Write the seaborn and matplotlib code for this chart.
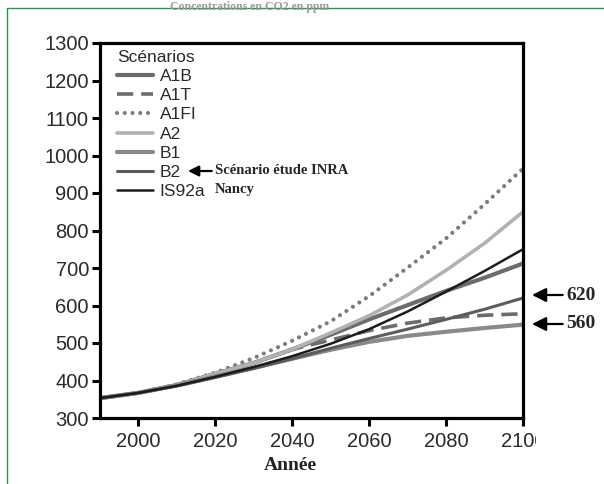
import matplotlib
matplotlib.use("Agg")
import matplotlib.pyplot as plt
from matplotlib.lines import Line2D
from matplotlib.transforms import Bbox
import seaborn as sns
import pandas as pd

years = [1990, 2000, 2010, 2020, 2030, 2040, 2050, 2060, 2070, 2080, 2090, 2100]
a1b   = [353, 367, 388, 418, 447, 483, 522, 563, 601, 639, 674, 712]
a1t   = [353, 367, 388, 418, 447, 483, 508, 533, 553, 567, 574, 578]
a1fi  = [353, 367, 390, 421, 460, 506, 558, 625, 701, 779, 870, 965]
a2    = [353, 367, 388, 418, 447, 483, 527, 573, 628, 694, 766, 850]
b1    = [353, 367, 387, 411, 434, 458, 482, 503, 519, 530, 540, 549]
b2    = [353, 367, 385, 408, 432, 458, 486, 512, 537, 563, 590, 620]
is92a = [353, 367, 386, 410, 436, 465, 498, 537, 584, 637, 692, 750]

scenarios = ["A1B", "A1T", "A1FI", "A2", "B1", "B2", "IS92a"]
series = [a1b, a1t, a1fi, a2, b1, b2, is92a]
xticks = [2000, 2020, 2040, 2060, 2080, 2100]
yticks = list(range(300, 1301, 100))

styles = {
    "A1B":   dict(color="#6c6c6c", lw=3.0, ls="-"),
    "A1T":   dict(color="#6c6c6c", lw=2.6, ls=(0, (4.5, 2.2))),
    "A1FI":  dict(color="#7c7c7c", lw=3.0, ls=(0, (0.01, 1.85))),
    "A2":    dict(color="#b2b2b2", lw=2.6, ls="-"),
    "B1":    dict(color="#8a8a8a", lw=3.0, ls="-"),
    "B2":    dict(color="#5c5c5c", lw=2.2, ls="-"),
    "IS92a": dict(color="#1c1c1c", lw=1.8, ls="-"),
}

rows = []
for name, vals in zip(scenarios, series):
    for y, v in zip(years, vals):
        rows.append({"Année": y, "ppm": v, "Scénario": name})
df = pd.DataFrame(rows)

sns.set_style("white")
plt.rcParams["font.family"] = ["Liberation Sans", "DejaVu Sans"]

W, H = 604, 484
fig = plt.figure(figsize=(W / 100, H / 100), dpi=100, facecolor="white")
ax = fig.add_axes([100 / W, (H - 418) / H, 423 / W, 375 / H])

handles = []
for name in scenarios:
    st = styles[name]
    sub = df[df["Scénario"] == name]
    sns.lineplot(data=sub, x="Année", y="ppm", ax=ax, color=st["color"],
                 linewidth=st["lw"], linestyle=st["ls"], label=name)
    ln = ax.get_lines()[-1]
    ln.set_dash_capstyle("round" if name == "A1FI" else "butt")
    handles.append(ln)

ax.set_xlim(1990, 2100)
ax.set_ylim(300, 1300)
ax.set_xticks(xticks)
ax.set_yticks(yticks)
ax.set_xlabel("")
ax.set_ylabel("")
for sp in ax.spines.values():
    sp.set_visible(True)
    sp.set_color("black")
    sp.set_linewidth(2.3)
ax.tick_params(axis="both", which="major", direction="out", length=6, width=2.2,
               color="black", labelsize=14.5, labelcolor="#2a2a2a")
ax.tick_params(axis="x", pad=4)
ax.tick_params(axis="y", pad=2, left=True)
ax.tick_params(axis="x", bottom=True)

leg = ax.legend(handles=handles, labels=scenarios, title="Scénarios",
                loc="upper left", bbox_to_anchor=(17 / 423, 1 - 7 / 375),
                frameon=False, fontsize=12.5, title_fontsize=12.5,
                labelspacing=0.23, handlelength=2.1, handletextpad=0.35,
                borderpad=0, borderaxespad=0, alignment="left")
for t in leg.get_texts():
    t.set_color("#2a2a2a")
leg.get_title().set_color("#2a2a2a")

# clip the last x tick label like the reference
fig.canvas.draw()
clip = Bbox.from_extents(0, 0, 536, H)
for lab in ax.get_xticklabels():
    if lab.get_position()[0] == 2100:
        lab.set_clip_box(clip)
        lab.set_clip_on(True)

serif = ["Liberation Serif", "DejaVu Serif"]
arrowprops = dict(arrowstyle="-|>,head_length=0.6,head_width=0.3", color="black",
                  lw=1.6, shrinkA=0, shrinkB=0)

ax.annotate("Scénario étude INRA", xy=(188, H - 171), xycoords="figure pixels",
            xytext=(215, H - 171), textcoords="figure pixels",
            va="center", ha="left", fontsize=10.5, fontweight="bold",
            family=serif, arrowprops=arrowprops, annotation_clip=False)
fig.text(215 / W, 1 - 190 / H, "Nancy", va="center", ha="left",
         fontsize=10.5, fontweight="bold", family=serif)

for label, ypx in [("620", 295), ("560", 324)]:
    ax.annotate(label, xy=(532, H - ypx), xycoords="figure pixels",
                xytext=(566, H - ypx), textcoords="figure pixels",
                va="center", ha="left", fontsize=14, fontweight="bold",
                family=serif, arrowprops=arrowprops, annotation_clip=False)

fig.text(290 / W, 1 - 465 / H, "Année", va="center", ha="center",
         fontsize=14, fontweight="bold", family=serif, color="#222222")

# faint title at very top (partly hidden in the reference)
fig.text(250 / W, 1 - 7 / H, "Concentrations en CO2 en ppm", va="center",
         ha="center", fontsize=8.5, fontweight="bold", color="#9a9a9a", family=serif)

# green page border
fig.add_artist(Line2D([7 / W, 7 / W], [0, 1 - 8 / H], transform=fig.transFigure,
                      color="#1f9a4c", lw=1.0))
fig.add_artist(Line2D([7 / W, 1], [1 - 8 / H, 1 - 8 / H], transform=fig.transFigure,
                      color="#1f9a4c", lw=1.0))

fig.savefig("out.png", dpi=100, facecolor="white")
